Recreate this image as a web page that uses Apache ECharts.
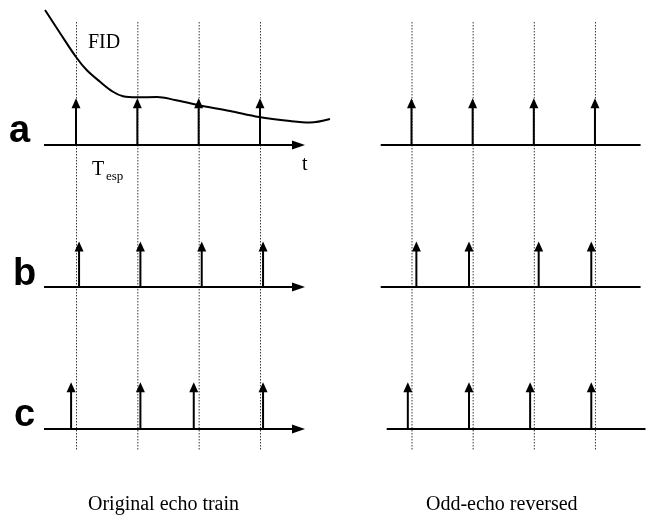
<!DOCTYPE html>
<html>
<head>
<meta charset="utf-8">
<script src="https://cdn.jsdelivr.net/npm/echarts@6/dist/echarts.min.js"></script>
<style>html,body{margin:0;padding:0;background:#fff}#c{width:650px;height:517px}</style>
</head>
<body>
<div id="c"></div>
<script>
// ---- data (time in units of echo spacing T_esp, amplitude in arbitrary units) ----
const echoGridTimes = [1, 2, 3, 4];
const rowNames = ['a', 'b', 'c'];
const rowBaseline = [6, 3, 0];
const echoHeight = [0.99, 0.96, 0.99];

const leftEchoA = [1, 2, 3, 4];
const leftEchoB = [1.05, 2.05, 3.05, 4.05];
const leftEchoC = [0.92, 2.05, 2.92, 4.05];
const rightEchoA = [1, 2, 3, 4];
const rightEchoB = [1.08, 1.94, 3.08, 3.94];
const rightEchoC = [0.94, 1.94, 2.94, 3.94];

const leftAxisStart = [0.478, 0.478, 0.478];
const leftAxisEnd = [4.734, 4.734, 4.734];
const rightAxisStart = [0.497, 0.497, 0.595];
const rightAxisEnd = [4.746, 4.746, 4.827];

const fidTime = [0.495, 0.739, 1.0, 1.174, 1.391, 1.603, 1.766, 1.995, 2.321, 2.614, 2.989, 3.511, 3.984, 4.489, 4.815, 5.141];
const fidAmp  = [8.853, 8.367, 7.860, 7.585, 7.338, 7.125, 7.030, 7.008, 7.015, 6.952, 6.846, 6.719, 6.592, 6.507, 6.476, 6.550];

const dottedTop = 8.6;
const dottedBottom = -0.444;

const captionLeft = 'Original echo train';
const captionRight = 'Odd-echo reversed';

// ---- build ----
const chart = echarts.init(document.getElementById('c'), null, {renderer: 'canvas'});

function echoItems(list, row) {
  return list.map(t => [t, rowBaseline[row], echoHeight[row]]);
}
const leftEchoes = [].concat(echoItems(leftEchoA, 0), echoItems(leftEchoB, 1), echoItems(leftEchoC, 2));
const rightEchoes = [].concat(echoItems(rightEchoA, 0), echoItems(rightEchoB, 1), echoItems(rightEchoC, 2));
const leftAxes = rowBaseline.map((b, i) => [leftAxisStart[i], leftAxisEnd[i], b, 1]);
const rightAxes = rowBaseline.map((b, i) => [rightAxisStart[i], rightAxisEnd[i], b, 0]);
const dotted = echoGridTimes.map(t => [t, dottedTop, dottedBottom]);
const fidData = fidTime.map((t, i) => [t, fidAmp[i]]);

function renderEcho(params, api) {
  const t = api.value(0), b = api.value(1), h = api.value(2);
  const p0 = api.coord([t, b]);
  const p1 = api.coord([t, b + h]);
  return {
    type: 'group',
    children: [
      {type: 'line', shape: {x1: p0[0], y1: p0[1], x2: p1[0], y2: p1[1] + 8}, style: {stroke: '#000', lineWidth: 2}},
      {type: 'polygon', shape: {points: [[p1[0], p1[1]], [p1[0] - 4.5, p1[1] + 10], [p1[0] + 4.5, p1[1] + 10]]}, style: {fill: '#000'}}
    ]
  };
}
function renderAxis(params, api) {
  const t0 = api.value(0), t1 = api.value(1), b = api.value(2), arrow = api.value(3);
  const p0 = api.coord([t0, b]);
  const p1 = api.coord([t1, b]);
  const children = [
    {type: 'line', shape: {x1: p0[0], y1: p0[1], x2: arrow ? p1[0] - 8 : p1[0], y2: p1[1]}, style: {stroke: '#000', lineWidth: 2}}
  ];
  if (arrow) {
    children.push({type: 'polygon', shape: {points: [[p1[0], p1[1]], [p1[0] - 13, p1[1] - 4.5], [p1[0] - 13, p1[1] + 4.5]]}, style: {fill: '#000'}});
  }
  return {type: 'group', children: children};
}
function renderDotted(params, api) {
  const t = api.value(0);
  const p0 = api.coord([t, api.value(1)]);
  const p1 = api.coord([t, api.value(2)]);
  return {type: 'line', shape: {x1: p0[0] + 0.5, y1: p0[1], x2: p1[0] + 0.5, y2: p1[1]},
    style: {stroke: '#333', lineWidth: 1, lineDash: [1.5, 1.5]}};
}

const yMin = -1, yMax = 9, yUnit = 47.33;
const gridTop = 429 - yMax * yUnit;
const gridHeight = (yMax - yMin) * yUnit;

const serif = '"Liberation Serif", "Times New Roman", serif';
const sans = '"Liberation Sans", Arial, sans-serif';

function txt(x, y, text, font) {
  return {type: 'text', x: x, y: y, style: {text: text, font: font, fill: '#000', textAlign: 'left', textVerticalAlign: 'middle'}};
}

chart.setOption({
  animation: false,
  backgroundColor: '#fff',
  grid: [
    {left: 14.67, top: gridTop, width: 5.3 * 61.33, height: gridHeight, show: false},
    {left: 350.33, top: gridTop, width: 4.9 * 61.67, height: gridHeight, show: false}
  ],
  xAxis: [
    {gridIndex: 0, type: 'value', min: 0, max: 5.3, show: false},
    {gridIndex: 1, type: 'value', min: 0, max: 4.9, show: false}
  ],
  yAxis: [
    {gridIndex: 0, type: 'value', min: yMin, max: yMax, show: false},
    {gridIndex: 1, type: 'value', min: yMin, max: yMax, show: false}
  ],
  series: [
    {type: 'custom', xAxisIndex: 0, yAxisIndex: 0, data: dotted, renderItem: renderDotted, clip: false, silent: true, z: 1},
    {type: 'custom', xAxisIndex: 1, yAxisIndex: 1, data: dotted, renderItem: renderDotted, clip: false, silent: true, z: 1},
    {type: 'custom', xAxisIndex: 0, yAxisIndex: 0, data: leftAxes, renderItem: renderAxis, clip: false, silent: true, z: 2},
    {type: 'custom', xAxisIndex: 1, yAxisIndex: 1, data: rightAxes, renderItem: renderAxis, clip: false, silent: true, z: 2},
    {type: 'custom', xAxisIndex: 0, yAxisIndex: 0, data: leftEchoes, renderItem: renderEcho, clip: false, silent: true, z: 3},
    {type: 'custom', xAxisIndex: 1, yAxisIndex: 1, data: rightEchoes, renderItem: renderEcho, clip: false, silent: true, z: 3},
    {type: 'line', name: 'FID', xAxisIndex: 0, yAxisIndex: 0, data: fidData, smooth: 0.35, showSymbol: false,
      lineStyle: {color: '#000', width: 2}, clip: false, silent: true, z: 4}
  ],
  graphic: [
    txt(9, 132, rowNames[0], 'bold 38px ' + sans),
    txt(13, 275, rowNames[1], 'bold 38px ' + sans),
    txt(14, 416, rowNames[2], 'bold 38px ' + sans),
    txt(88, 43, 'FID', '20px ' + serif),
    txt(302, 165, 't', '20px ' + serif),
    txt(92, 170, 'T', '20px ' + serif),
    txt(106, 177, 'esp', '13px ' + serif),
    txt(88, 505, captionLeft, '20px ' + serif),
    txt(426, 505, captionRight, '20px ' + serif)
  ]
});
</script>
</body>
</html>
